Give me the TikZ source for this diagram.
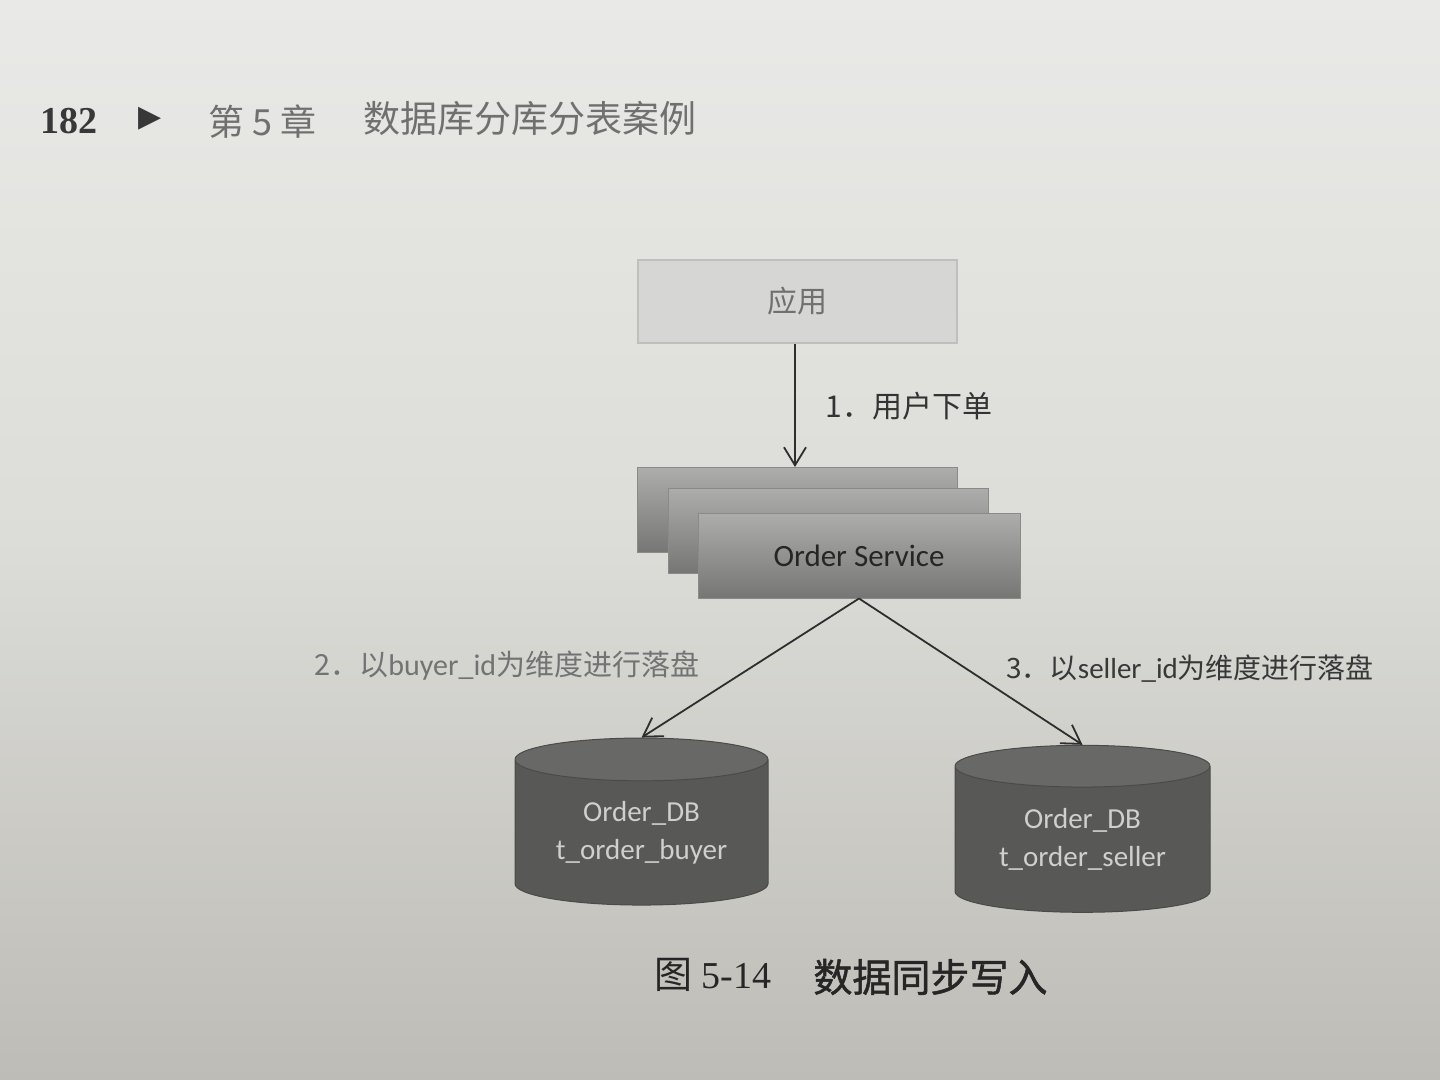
\documentclass[tikz,border=0pt]{standalone}
\usepackage{fontspec}
\setmainfont{Liberation Serif}
\newfontfamily\cjk{Noto Sans CJK SC}
\newfontfamily\cjkb[FakeBold=1.3]{Noto Sans CJK SC}
\newfontfamily\calf{Carlito}
\newfontfamily\dvs{DejaVu Sans}
\usetikzlibrary{shapes.geometric,arrows.meta}
\definecolor{bgtop}{HTML}{E9E9E7}
\definecolor{bgmid}{HTML}{DCDCD8}
\definecolor{bgbot}{HTML}{BDBCB6}
\definecolor{appfill}{HTML}{D6D6D5}
\definecolor{appline}{HTML}{BFBFBE}
\definecolor{svctop}{HTML}{ADADAB}
\definecolor{svcbot}{HTML}{767674}
\definecolor{svcline}{HTML}{8A8A88}
\definecolor{dbbody}{HTML}{585857}
\definecolor{dbend}{HTML}{686866}
\definecolor{dbline}{HTML}{4A4A49}
\definecolor{dbtext}{HTML}{CFCFCC}
\definecolor{linec}{HTML}{2E2E2E}
\definecolor{hdrgray}{HTML}{707070}
\definecolor{hdrdark}{HTML}{383838}
\begin{document}
\begin{tikzpicture}[x=0.5pt,y=-0.5pt,
  appbox/.style={rectangle, draw=appline, fill=appfill, line width=0.6pt,
    minimum width=159.5pt, minimum height=41.5pt, inner sep=0pt,
    text=hdrgray, font=\cjk\fontsize{15}{18}\selectfont},
  svcbox/.style={rectangle, draw=svcline, line width=0.5pt,
    top color=svctop, bottom color=svcbot,
    minimum width=160pt, minimum height=42.5pt, inner sep=0pt},
  dbnode/.style={cylinder, shape border rotate=90, aspect=0.25, draw=dbline,
    line width=0.5pt, cylinder uses custom fill, cylinder body fill=dbbody,
    cylinder end fill=dbend, minimum width=126.5pt, minimum height=83.5pt,
    inner sep=0pt, text=dbtext, align=center,
    font=\calf\fontsize{14.5}{19}\selectfont},
  flow/.style={draw=linec, line width=0.9pt,
    -{Straight Barb[length=9pt,width=11pt,line width=0.9pt]}},
  lbl/.style={anchor=west, inner sep=0pt, font=\cjk\fontsize{14.5}{17}\selectfont},
]
% page background
\path[top color=bgtop, bottom color=bgbot, middle color=bgmid]
  (0,0) rectangle (1440,1080);
\useasboundingbox (0,0) rectangle (1440,1080);

% header
\node[anchor=west, inner sep=0pt, text=hdrdark, font=\bfseries\fontsize{19}{22}\selectfont] (h1) at (40,121) {182};
\node[inner sep=0pt, text=hdrdark, font=\dvs\fontsize{15}{18}\selectfont] (h2) at (150,119) {▶};
\node[anchor=west, inner sep=0pt, text=hdrgray, font=\cjk\fontsize{18}{22}\selectfont] (h3) at (208,122) {第 5 章};
\node[anchor=west, inner sep=0pt, text=hdrgray, font=\cjk\fontsize{18.5}{22}\selectfont] (h4) at (363,118) {数据库分库分表案例};

% application box
\node[appbox] (app) at (797.5,301.5) {应用};

% order service stack
\node[svcbox] (s1) at (797,510) {};
\node[svcbox] (s2) at (828,530.5) {};
\node[svcbox, minimum width=161pt, text=black!85, font=\calf\fontsize{15.5}{18}\selectfont] (s3) at (859,555.5) {Order Service};

% databases
\node[dbnode] (dbl) at (641.5,832.5) {Order\_DB\\t\_order\_buyer};
\node[dbnode, minimum width=127.5pt] (dbr) at (1082.5,839.5) {Order\_DB\\t\_order\_seller};

% connectors
\draw[flow] (app.south -| 795,0) -- (s1.north -| 795,0);
\draw[flow] (s3.south) -- (dbl.north);
\draw[flow] (s3.south) -- (dbr.north);

% labels
\node[lbl, text=black!80, font=\cjk\fontsize{15}{18}\selectfont] (l1) at (825,406) {1．用户下单};
\node[lbl, text=black!55] (l2) at (314,666) {2．以{\calf\fontsize{15}{17}\selectfont buyer\_id}为维度进行落盘};
\node[lbl, text=black!78, font=\cjk\fontsize{14}{17}\selectfont] (l3) at (1006,669) {3．以{\calf\fontsize{14.5}{17}\selectfont seller\_id}为维度进行落盘};

% caption
\node[anchor=west, inner sep=0pt, text=black!85, font=\fontsize{19}{22}\selectfont] (c1) at (654,975) {{\cjk 图} 5-14};
\node[anchor=west, inner sep=0pt, text=black!85, font=\cjkb\fontsize{19.5}{22}\selectfont] (c2) at (813,977) {数据同步写入};
\end{tikzpicture}
\end{document}
